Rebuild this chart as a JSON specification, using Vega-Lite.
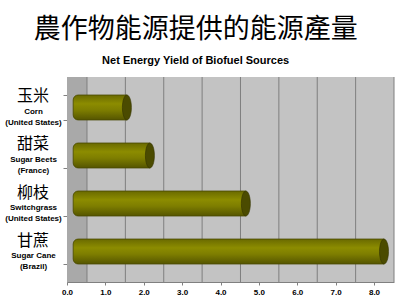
{
  "$schema": "https://vega.github.io/schema/vega-lite/v6.json",
  "width": 327,
  "height": 205,
  "autosize": {"type": "none"},
  "padding": {"left": 67, "top": 77, "right": 6, "bottom": 20},
  "background": "white",
  "config": {
    "view": {"fill": "#c3c3c3", "stroke": null},
    "font": "Liberation Sans"
  },
  "title": {
    "text": "農作物能源提供的能源產量",
    "subtitle": "Net Energy Yield of Biofuel Sources",
    "anchor": "middle",
    "frame": "bounds",
    "dx": -4,
    "font": "Noto Sans CJK TC",
    "fontSize": 27,
    "fontWeight": "normal",
    "color": "#000000",
    "subtitleFont": "Liberation Sans",
    "subtitleFontSize": 11,
    "subtitleFontWeight": "bold",
    "subtitleColor": "#000000",
    "subtitlePadding": 11,
    "offset": 10
  },
  "datasets": {
    "yield": [
      {"source": "Corn (United States)", "zh": "玉米", "value": 1.3},
      {"source": "Sugar Beets (France)", "zh": "甜菜", "value": 1.9},
      {"source": "Switchgrass (United States)", "zh": "柳枝", "value": 4.4},
      {"source": "Sugar Cane (Brazil)", "zh": "甘蔗", "value": 8.0}
    ],
    "grid": [
      {"g": 0}, {"g": 1}, {"g": 2}, {"g": 3}, {"g": 4}, {"g": 5}, {"g": 6}, {"g": 7}, {"g": 8}
    ]
  },
  "resolve": {"scale": {"x": "independent"}, "axis": {"x": "independent"}},
  "layer": [
    {
      "data": {"name": "yield"},
      "mark": {"type": "rect", "fill": "#a9a9a9"},
      "encoding": {
        "x": {"datum": 0, "type": "quantitative", "scale": {"domain": [0, 8.521], "nice": false, "zero": false},
          "axis": {"orient": "bottom", "values": [0, 1, 2, 3, 4, 5, 6, 7, 8], "format": ".1f", "grid": false,
            "labelFont": "Liberation Sans", "labelFontSize": 8, "labelFontWeight": "bold", "labelColor": "#000000",
            "tickSize": 3, "tickColor": "#808080", "labelPadding": 3, "domainColor": "#808080", "title": null, "labelFlush": false}},
        "x2": {"datum": 0.521}
      }
    },
    {
      "data": {"name": "grid"},
      "mark": {"type": "rule", "color": "#7f7f7f", "strokeWidth": 1},
      "encoding": {
        "x": {"field": "g", "type": "quantitative", "scale": {"domain": [-0.521, 8.0], "nice": false, "zero": false}, "axis": null}
      }
    },
    {
      "data": {"name": "yield"},
      "mark": {
        "type": "bar",
        "cornerRadiusTopLeft": 5,
        "cornerRadiusBottomLeft": 5,
        "stroke": "#4a4a00",
        "strokeWidth": 0.8,
        "fill": {
          "gradient": "linear", "x1": 0, "y1": 0, "x2": 0, "y2": 1,
          "stops": [
            {"offset": 0, "color": "#6a6a00"},
            {"offset": 0.35, "color": "#8c8c00"},
            {"offset": 0.6, "color": "#7e7e00"},
            {"offset": 1, "color": "#555500"}
          ]
        }
      },
      "encoding": {
        "y": {"field": "source", "type": "nominal", "sort": null,
          "scale": {"paddingInner": 0.48, "paddingOuter": 0.375},
          "axis": {"title": null, "tickBand": "extent", "tickSize": 4, "tickColor": "#808080",
            "labelAlign": "center", "labelBaseline": "top", "labelPadding": 30, "labelFont": "Liberation Sans", "labelFontSize": 8,
            "labelFontWeight": "bold", "labelColor": "#000000", "labelLineHeight": 11, "labelDy": 0,
            "labelExpr": "isValid(datum.value) ? split(replace(datum.value, ' (', '|('), '|') : ''", "domainColor": "#808080", "labelLimit": 0}},
        "x": {"field": "value", "type": "quantitative", "scale": {"domain": [-0.2606, 8.2606], "nice": false, "zero": false}, "axis": null},
        "x2": {"datum": -0.1}
      }
    },
    {
      "data": {"name": "yield"},
      "mark": {"type": "point", "shape": "M0,-1 A0.36,1 0 1,1 0,1 A0.36,1 0 1,1 0,-1 Z", "size": 625, "filled": true, "fill": "#4b4b00", "stroke": "#333300", "strokeWidth": 0.6, "opacity": 1},
      "encoding": {
        "y": {"field": "source", "type": "nominal", "sort": null},
        "x": {"field": "value", "type": "quantitative", "scale": {"domain": [-0.2606, 8.2606], "nice": false, "zero": false}, "axis": null}
      }
    },
    {
      "data": {"name": "yield"},
      "mark": {"type": "text", "font": "Noto Sans CJK TC", "fontSize": 16, "color": "#000000", "align": "center", "baseline": "middle", "dy": -11},
      "encoding": {
        "y": {"field": "source", "type": "nominal", "sort": null},
        "x": {"datum": -1.147, "type": "quantitative", "scale": {"domain": [-0.2606, 8.2606], "nice": false, "zero": false}, "axis": null},
        "text": {"field": "zh"}
      }
    }
  ]
}
